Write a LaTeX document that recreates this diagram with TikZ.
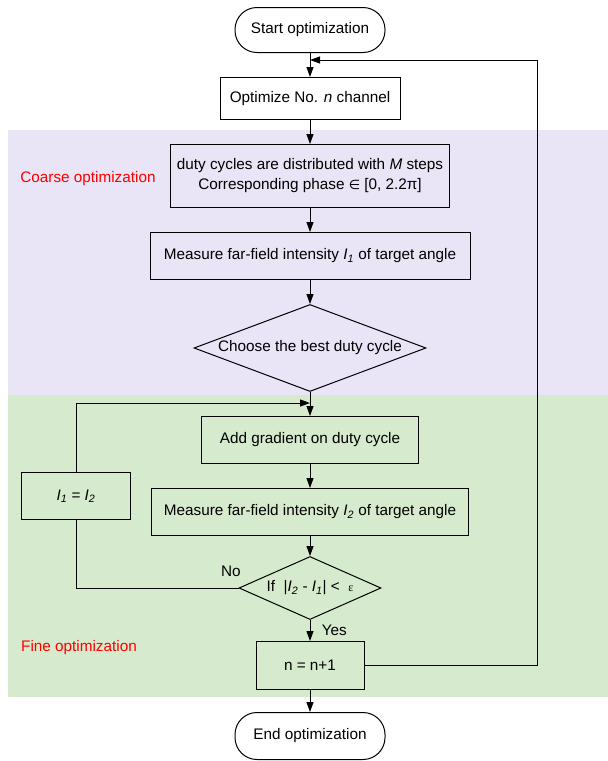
\documentclass[tikz,border=0pt]{standalone}
\usepackage{fontspec}
\setmainfont{Liberation Sans}
\newfontfamily\symfont{DejaVu Sans}
\newfontfamily\greekfont{Liberation Serif}
\usepackage{tikz}
\usetikzlibrary{shapes.geometric, arrows.meta, positioning}
\definecolor{coarsebg}{RGB}{233,228,246}
\definecolor{finebg}{RGB}{214,234,205}
\tikzstyle{startstop} = [rectangle, rounded corners=22pt, minimum width=150pt, minimum height=45pt, text centered, draw=black, fill=white]
\tikzstyle{process} = [rectangle, minimum height=47pt, text centered, align=center, draw=black]
\tikzstyle{decision} = [diamond, inner sep=0pt, text centered, draw=black]
\tikzstyle{bandlabel} = [text=red]
\tikzstyle{arrow} = [->,>={Triangle[length=10pt,width=7pt]}]

\begin{document}
\begin{tikzpicture}[x=1pt, y=-1pt, node distance=24pt, line width=1pt, font=\fontsize{15.3}{20}\selectfont]
\useasboundingbox (0,0) rectangle (608,761);
% background bands
\fill [coarsebg] (8,130) rectangle (608,395);
\fill [finebg] (8,395) rectangle (608,697);
\node (coarse) [bandlabel] at (88,179) {Coarse optimization};
\node (fine) [bandlabel] at (79,648) {Fine optimization};

\node (start) [startstop] at (310,30) {Start optimization};
\node (opt) [process, below=of start, minimum width=180pt, minimum height=42pt] {Optimize No. \textit{n} channel};
\node (steps) [process, below=of opt, minimum width=279pt, minimum height=63pt] {duty cycles are distributed with \textit{M} steps\\Corresponding phase {\symfont\fontsize{13}{13}\selectfont ∈} [0, 2.2π]};
\node (measure1) [process, below=of steps, minimum width=320pt] {Measure far-field intensity \textit{I\textsubscript{1}} of target angle};
\node (choose) [decision, aspect=2.67, below=of measure1, minimum width=232pt, minimum height=87pt] {Choose the best duty cycle};
\node (add) [process, below=of choose, minimum width=217pt] {Add gradient on duty cycle};
\node (measure2) [process, below=of add, minimum width=317pt] {Measure far-field intensity \textit{I\textsubscript{2}} of target angle};
\node (swap) [process, left=20pt of measure2, yshift=16pt, minimum width=109pt] {\textit{I\textsubscript{1}} = \textit{I\textsubscript{2}}};
\node (check) [decision, aspect=2.25, below=20pt of measure2, minimum width=142pt, minimum height=63pt] {If \ |\textit{I\textsubscript{2}} - \textit{I\textsubscript{1}}| < \ {\greekfont\fontsize{12}{12}\selectfont ε}};
\node (next) [process, below=21pt of check, minimum width=108pt, minimum height=48pt] {n = n+1};
\node (stop) [startstop, below=22pt of next, minimum height=47pt] {End optimization};

\coordinate (join) at ([yshift=17pt]opt.north);
\coordinate (loopin) at ([yshift=13pt]add.north);

\draw [arrow] (start) -- (opt);
\draw [arrow] (opt) -- (steps);
\draw [arrow] (steps) -- (measure1);
\draw [arrow] (measure1) -- (choose);
\draw [arrow] (choose) -- (add);
\draw [arrow] (add) -- (measure2);
\draw [arrow] (measure2) -- (check);
\draw [arrow] (check) -- node [right=8pt] {Yes} (next);
\draw [arrow] (next) -- (stop);
\draw (check.west) -| (swap.south);
\node (no) [anchor=south east] at ([shift={(6pt,8pt)}]check.west) {No};
\draw [arrow] (swap.north) |- (loopin);
\draw [arrow] (next.east) -| ([xshift=227pt]join) -- (join);
\end{tikzpicture}
\end{document}
